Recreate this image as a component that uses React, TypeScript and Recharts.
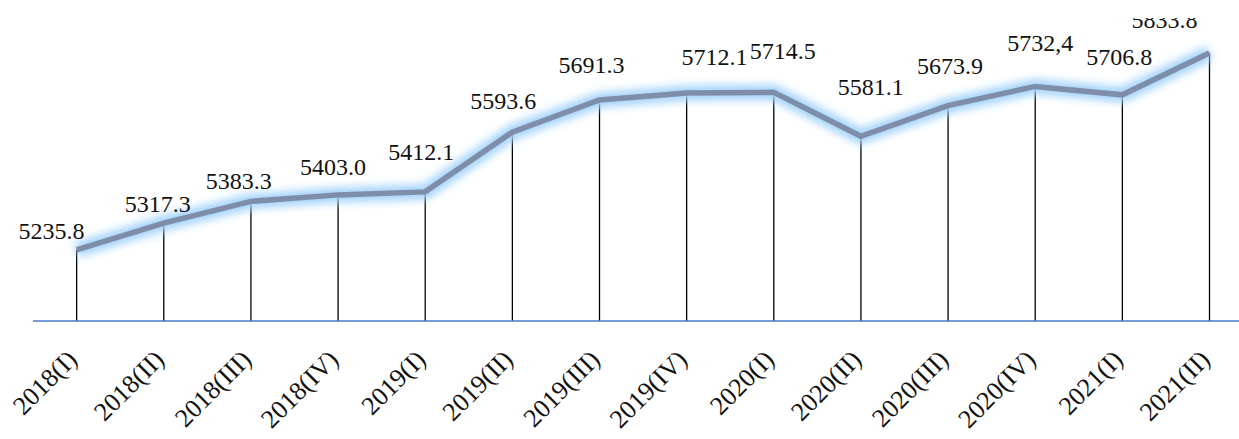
import React from "react";
import { ComposedChart, Line, Bar, XAxis, YAxis, LabelList } from "recharts";

const categories = [
  "2018(I)", "2018(II)", "2018(III)", "2018(IV)",
  "2019(I)", "2019(II)", "2019(III)", "2019(IV)",
  "2020(I)", "2020(II)", "2020(III)", "2020(IV)",
  "2021(I)", "2021(II)",
];
const values = [
  5235.8, 5317.3, 5383.3, 5403.0, 5412.1, 5593.6, 5691.3,
  5712.1, 5714.5, 5581.1, 5673.9, 5732.4, 5706.8, 5833.8,
];
const valueLabels = [
  "5235.8", "5317.3", "5383.3", "5403.0", "5412.1", "5593.6", "5691.3",
  "5712.1", "5714.5", "5581.1", "5673.9", "5732,4", "5706.8", "5833.8",
];
// label offsets relative to each point (dx, dy of text baseline center)
const labelDx = [-25, -6, -12, -5, -4, -9, -8, 28, 9, 10, 2, 5, -3, -45];
const labelDy = [-11, -11, -12, -20, -32, -23, -27, -28, -33, -41, -32, -35, -30, -25];

const data = categories.map((c, i) => ({ name: c, value: values[i] }));

const FONT = "'Liberation Serif', 'Times New Roman', serif";

const renderLabel = (props: any) => {
  const { x, y, index } = props;
  const tx = x + labelDx[index];
  const ty = y + labelDy[index];
  return (
    <text
      key={`lbl-${index}`}
      x={tx}
      y={ty}
      textAnchor="middle"
      style={{ fontFamily: FONT, fontSize: 24, fill: "#111" }}
      clipPath="url(#topClip)"
    >
      {valueLabels[index]}
    </text>
  );
};

const renderTick = (props: any) => {
  const { x, y, payload } = props;
  const ax = x + 2;
  const ay = y + 32;
  return (
    <text
      x={ax}
      y={ay}
      textAnchor="end"
      transform={`rotate(-45, ${ax}, ${ay})`}
      style={{ fontFamily: FONT, fontSize: 26, fill: "#111" }}
    >
      {payload.value}
    </text>
  );
};

export default function App() {
  return (
    <div
      style={{
        position: "absolute",
        left: 0,
        top: 0,
        width: 1239,
        height: 439,
        overflow: "hidden",
        background: "#fff",
      }}
    >
      <svg width={0} height={0} style={{ position: "absolute" }}>
        <defs>
          <filter id="glowBlur" x="-10%" y="-50%" width="120%" height="200%">
            <feGaussianBlur stdDeviation="4" />
          </filter>
          <clipPath id="topClip" clipPathUnits="userSpaceOnUse">
            <rect x={0} y={18} width={1300} height={500} />
          </clipPath>
        </defs>
      </svg>
      <style>{`.glow-line path { filter: url(#glowBlur); }`}</style>
      <ComposedChart
        width={1253}
        height={439}
        data={data}
        margin={{ top: 0, right: 0, left: 33, bottom: 0 }}
        barCategoryGap={0}
      >
        <XAxis
          dataKey="name"
          height={118}
          axisLine={{ stroke: "#4a78cf", strokeWidth: 1.5 }}
          tickLine={false}
          tick={renderTick}
          interval={0}
        />
        <YAxis hide domain={[5020, 5994.8]} type="number" />
        <Bar
          dataKey="value"
          barSize={1.3}
          fill="#000"
          isAnimationActive={false}
        />
        <Line
          className="glow-line"
          dataKey="value"
          stroke="#a3d3fb"
          strokeWidth={15}
          dot={false}
          activeDot={false}
          isAnimationActive={false}
          strokeLinejoin="round"
        />
        <Line
          dataKey="value"
          stroke="#7f8ea8"
          strokeWidth={5.5}
          dot={false}
          activeDot={false}
          isAnimationActive={false}
        >
          <LabelList dataKey="value" content={renderLabel} />
        </Line>
      </ComposedChart>
    </div>
  );
}
